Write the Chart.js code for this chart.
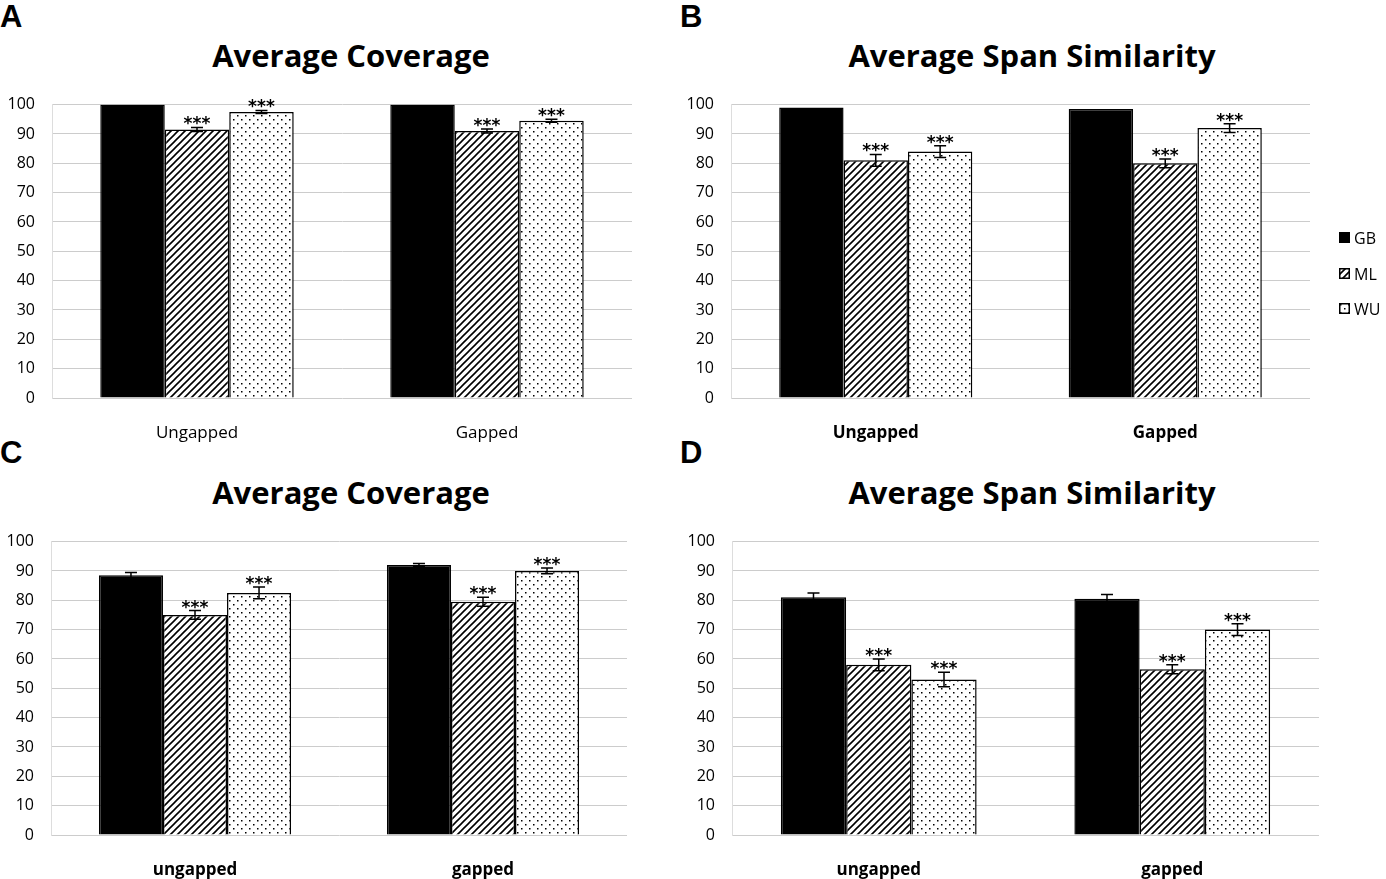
<!DOCTYPE html>
<html>
<head>
<meta charset="utf-8">
<script src="https://cdn.jsdelivr.net/npm/chart.js@4.4.0/dist/chart.umd.min.js"></script>
<style>
  body { margin: 0; background: #fff; width: 1386px; height: 879px; position: relative; overflow: hidden; font-family: "Open Sans", sans-serif; }
  .panel { position: absolute; }
  .letter { position: absolute; font: bold 31px "Liberation Sans", Arial, sans-serif; color: #000; }
  .title { position: absolute; font: bold 31px "Open Sans", sans-serif; color: #000; transform: translateX(-50%); white-space: nowrap; }
  #legend { position: absolute; left: 1339px; top: 227px; font: 16px "Open Sans", sans-serif; }
  #legend div { height: 35.5px; display: flex; align-items: flex-start; }
  #legend canvas { margin-right: 4px; margin-top: 5px; }
</style>
</head>
<body>
<div class="letter" style="left:0px;top:-1px">A</div>
<div class="letter" style="left:680px;top:-1px">B</div>
<div class="letter" style="left:0px;top:435px">C</div>
<div class="letter" style="left:680px;top:435px">D</div>
<div class="title" style="left:351px;top:34px">Average Coverage</div>
<div class="title" style="left:1032px;top:34px">Average Span Similarity</div>
<div class="title" style="left:351px;top:471px">Average Coverage</div>
<div class="title" style="left:1032px;top:471px">Average Span Similarity</div>
<canvas class="panel" id="chartA" width="642" height="370" style="left:0px;top:78px"></canvas>
<canvas class="panel" id="chartB" width="650" height="370" style="left:680px;top:78px"></canvas>
<canvas class="panel" id="chartC" width="640" height="370" style="left:0px;top:515px"></canvas>
<canvas class="panel" id="chartD" width="650" height="370" style="left:680px;top:515px"></canvas>
<div id="legend"></div>
<script>
const seriesNames = ["GB", "ML", "WU"]
const categoriesUpper = ["Ungapped", "Gapped"]
const categoriesLower = ["ungapped", "gapped"]

// A: average coverage
const coverageA_GB = [100, 100]
const coverageA_ML = [91.5, 91]
const coverageA_WU = [97.5, 94.5]
const errA_GB = [0, 0]
const errA_ML = [0.7, 0.7]
const errA_WU = [0.5, 0.5]

// B: average span similarity
const spanB_GB = [99, 98.5]
const spanB_ML = [81, 80]
const spanB_WU = [84, 92]
const errB_GB = [0, 0]
const errB_ML = [2, 1.5]
const errB_WU = [2, 1.5]

// C: average coverage
const coverageC_GB = [88.5, 92]
const coverageC_ML = [75, 79.5]
const coverageC_WU = [82.5, 90]
const errC_GB = [1, 0.5]
const errC_ML = [1.5, 1.5]
const errC_WU = [2, 1]

// D: average span similarity
const spanD_GB = [81, 80.5]
const spanD_ML = [58, 56.5]
const spanD_WU = [53, 70]
const errD_GB = [1.5, 1.5]
const errD_ML = [2, 1.5]
const errD_WU = [2.5, 2]

// stars mark significance for ML and WU
const starred = [false, true, true]

// fill patterns
const makeHatch = () => {
  const c = document.createElement("canvas")
  c.width = 7; c.height = 7
  const g = c.getContext("2d")
  g.fillStyle = "#fff"; g.fillRect(0, 0, 7, 7)
  g.strokeStyle = "#000"; g.lineWidth = 1.6
  g.beginPath()
  g.moveTo(-1, 8); g.lineTo(8, -1)
  g.moveTo(-4, 4); g.lineTo(4, -4)
  g.moveTo(3, 11); g.lineTo(11, 3)
  g.stroke()
  return document.createElement("canvas").getContext("2d").createPattern(c, "repeat")
}
const makeDots = () => {
  const c = document.createElement("canvas")
  c.width = 8; c.height = 8
  const g = c.getContext("2d")
  g.fillStyle = "#fff"; g.fillRect(0, 0, 8, 8)
  g.fillStyle = "#000"
  g.fillRect(1, 1, 1.5, 1.5)
  g.fillRect(5, 5, 1.5, 1.5)
  return document.createElement("canvas").getContext("2d").createPattern(c, "repeat")
}
const hatch = makeHatch()
const dots = makeDots()
const fills = ["#000", hatch, dots]

const errorBars = {
  id: "errorBars",
  afterDatasetsDraw(chart) {
    const ctx = chart.ctx
    const y = chart.scales.y
    chart.data.datasets.forEach((ds, di) => {
      const meta = chart.getDatasetMeta(di)
      meta.data.forEach((bar, i) => {
        const v = ds.data[i], e = ds.errors[i]
        const top = y.getPixelForValue(v + e)
        const bot = y.getPixelForValue(v - e)
        ctx.save()
        ctx.strokeStyle = "#000"
        ctx.lineWidth = 1.5
        if (e > 0) {
          ctx.beginPath()
          ctx.moveTo(bar.x, top); ctx.lineTo(bar.x, bot)
          ctx.moveTo(bar.x - 6, top); ctx.lineTo(bar.x + 6, top)
          ctx.moveTo(bar.x - 6, bot); ctx.lineTo(bar.x + 6, bot)
          ctx.stroke()
        }
        if (starred[di]) {
          ctx.fillStyle = "#000"
          ctx.font = "bold 17px 'DejaVu Sans'"
          ctx.textAlign = "center"
          ctx.textBaseline = "alphabetic"
          for (let s = -1; s <= 1; s++) ctx.fillText("*", bar.x + s * 9, top + 2)
        }
        ctx.restore()
      })
    })
  }
}

const makeChart = (id, labels, values, errors, yWidth, padRight, boldX) => {
  new Chart(document.getElementById(id), {
    type: "bar",
    data: {
      labels: labels,
      datasets: values.map((v, k) => ({
        label: seriesNames[k],
        data: v,
        errors: errors[k],
        backgroundColor: fills[k],
        borderColor: "#000",
        borderWidth: 1.5,
        categoryPercentage: 0.667,
        barPercentage: 1,
      })),
    },
    options: {
      responsive: false,
      animation: false,
      devicePixelRatio: 1,
      layout: { padding: { top: 4, right: padRight, left: 0, bottom: 0 } },
      plugins: { legend: { display: false }, tooltip: { enabled: false } },
      scales: {
        x: {
          grid: { display: false },
          border: { display: false },
          ticks: { color: "#000", padding: 17, font: { family: "Open Sans", size: 17, weight: boldX ? "bold" : "normal" } },
          afterFit: (s) => { s.height = 50 },
        },
        y: {
          min: 0,
          max: 100,
          ticks: { stepSize: 10, color: "#000", padding: 17, font: { family: "Open Sans", size: 16 } },
          grid: { color: "#cccccc", drawTicks: false, lineWidth: 1 },
          border: { display: true, color: "#dddddd" },
          afterFit: (s) => { s.width = yWidth },
        },
      },
    },
    plugins: [errorBars],
  })
}

makeChart("chartA", categoriesUpper, [coverageA_GB, coverageA_ML, coverageA_WU], [errA_GB, errA_ML, errA_WU], 52, 10, false)
makeChart("chartB", categoriesUpper, [spanB_GB, spanB_ML, spanB_WU], [errB_GB, errB_ML, errB_WU], 51, 20, true)
makeChart("chartC", categoriesLower, [coverageC_GB, coverageC_ML, coverageC_WU], [errC_GB, errC_ML, errC_WU], 51, 13, true)
makeChart("chartD", categoriesLower, [spanD_GB, spanD_ML, spanD_WU], [errD_GB, errD_ML, errD_WU], 52, 11, true)

// legend
const legend = document.getElementById("legend")
seriesNames.forEach((name, k) => {
  const row = document.createElement("div")
  const sw = document.createElement("canvas")
  sw.width = 11; sw.height = 11
  const g = sw.getContext("2d")
  g.fillStyle = fills[k]; g.fillRect(0, 0, 11, 11)
  g.strokeStyle = "#000"; g.lineWidth = 1.5; g.strokeRect(0.75, 0.75, 9.5, 9.5)
  row.appendChild(sw)
  const t = document.createElement("span")
  t.textContent = name
  row.appendChild(t)
  legend.appendChild(row)
})
</script>
</body>
</html>
